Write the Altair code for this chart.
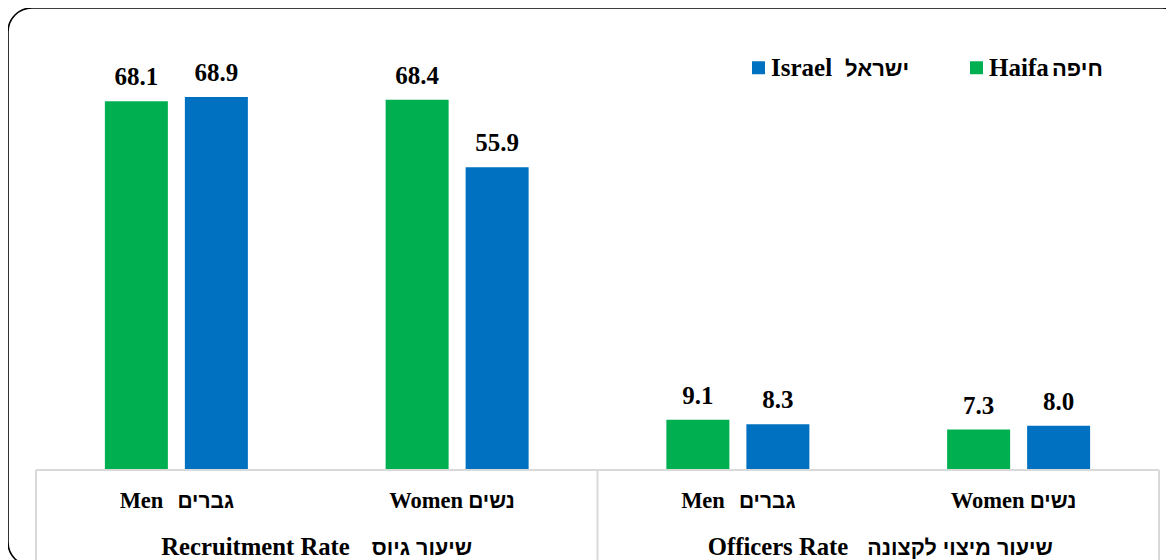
import altair as alt
import pandas as pd

# ---- data -------------------------------------------------------------
groups_en = ["Recruitment Rate", "Officers Rate"]
groups_he = ["שיעור גיוס", "שיעור מיצוי לקצונה"]
genders_en = ["Men", "Women"]
genders_he = ["גברים", "נשים"]
series_en = ["Haifa", "Israel"]
series_he = ["חיפה", "ישראל"]
haifa = [68.1, 68.4, 9.1, 7.3]
israel = [68.9, 55.9, 8.3, 8.0]

# ---- style / layout ---------------------------------------------------
GREEN = "#00B050"
BLUE = "#0070C0"
GRID = "#D9D9D9"
EN_FONT = "Liberation Serif"
HE_FONT = "Liberation Sans"
W, H = 1123, 432
gender_dx = [(-13, 1), (6, 11)]          # (english right edge, hebrew left edge) from centre
group_dx = [(33, 55), (-30, -11)]
legend_he_x = {"Israel": 809, "Haifa": 1016}

keys, cat_rows = [], []
for gi in range(len(groups_en)):
    for ji in range(len(genders_en)):
        k = f"{gi}-{ji}"
        keys.append(k)
        cat_rows.append({"key": k, "g": ji, "en": genders_en[ji], "he": genders_he[ji]})

rows = []
for i, k in enumerate(keys):
    rows.append({"key": k, "series": series_en[0], "value": haifa[i]})
    rows.append({"key": k, "series": series_en[1], "value": israel[i]})
bars_df = pd.DataFrame(rows)
cat_df = pd.DataFrame(cat_rows)
grp_df = pd.DataFrame({"pos": [1, 3], "g": [0, 1], "en": groups_en, "he": groups_he})
ser_df = pd.DataFrame({"en": series_en, "he": series_he})
vline_df = pd.DataFrame({"pos": [0, 2, 4]})
one = pd.DataFrame({"a": [0]})

xband = alt.X("key:N", axis=None,
              scale=alt.Scale(domain=keys, paddingInner=0, paddingOuter=0))
xoff = alt.XOffset("series:N",
                   scale=alt.Scale(domain=series_en, paddingInner=0.2125, paddingOuter=0.861))
yq = alt.Y("value:Q", axis=None, scale=alt.Scale(domain=[0, 80]))
xq = alt.X("pos:Q", axis=None, scale=alt.Scale(domain=[0, 4], nice=False, zero=False))

border = alt.Chart(one).mark_rect(
    cornerRadius=24, fill="transparent", stroke="black", strokeWidth=1.6
).encode(x=alt.value(-28), x2=alt.value(1150), y=alt.value(-29), y2=alt.value(529))

bars = alt.Chart(bars_df).mark_bar().encode(
    x=xband, xOffset=xoff, y=yq,
    color=alt.Color("series:N",
                    scale=alt.Scale(domain=[series_en[1], series_en[0]], range=[BLUE, GREEN]),
                    legend=alt.Legend(title=None, orient="none", legendX=710, legendY=18,
                                      direction="horizontal", symbolType="square",
                                      symbolSize=169, symbolStrokeWidth=0,
                                      labelFont=EN_FONT, labelFontSize=25,
                                      labelFontWeight="bold", labelColor="black",
                                      labelOffset=0, columnPadding=131, padding=0,
                                      labelLimit=400)),
)

values = alt.Chart(bars_df).mark_text(
    baseline="alphabetic", dy=-16, font=EN_FONT, fontSize=25, fontWeight="bold", color="black"
).encode(x=xband, xOffset=xoff, y=yq, text=alt.Text("value:Q", format=".1f"))

layers = [border, bars, values]

# bottom table lines
layers.append(alt.Chart(one).mark_rule(color=GRID, strokeWidth=2).encode(
    x=alt.value(0), x2=alt.value(W), y=alt.value(433)))
layers.append(alt.Chart(vline_df).mark_rule(color=GRID, strokeWidth=2).encode(
    x=xq, y=alt.value(433), y2=alt.value(560)))

# gender labels
for ji, (dxe, dxh) in enumerate(gender_dx):
    base = alt.Chart(cat_df).transform_filter(alt.datum.g == ji)
    layers.append(base.mark_text(align="right", baseline="alphabetic", dx=dxe, font=EN_FONT,
                                 fontSize=22.5, fontWeight="bold", color="black")
                  .encode(x=xband, y=alt.value(471), text="en:N"))
    layers.append(base.mark_text(align="left", baseline="alphabetic", dx=dxh, font=HE_FONT,
                                 fontSize=21, fontWeight="bold", color="black")
                  .encode(x=xband, y=alt.value(471), text="he:N"))

# group labels
for gi, (dxe, dxh) in enumerate(group_dx):
    base = alt.Chart(grp_df).transform_filter(alt.datum.g == gi)
    layers.append(base.mark_text(align="right", baseline="alphabetic", dx=dxe, font=EN_FONT,
                                 fontSize=24.7, fontWeight="bold", color="black")
                  .encode(x=xq, y=alt.value(518), text="en:N"))
    layers.append(base.mark_text(align="left", baseline="alphabetic", dx=dxh, font=HE_FONT,
                                 fontSize=21.5, fontWeight="bold", color="black")
                  .encode(x=xq, y=alt.value(518), text="he:N"))

# hebrew legend labels
for name, hx in legend_he_x.items():
    layers.append(alt.Chart(ser_df).transform_filter(alt.datum.en == name)
                  .mark_text(align="left", baseline="alphabetic", font=HE_FONT,
                             fontSize=22, fontWeight="bold", color="black")
                  .encode(x=alt.value(hx), y=alt.value(38.5), text="he:N"))

chart = alt.layer(*layers).resolve_scale(x="independent").properties(
    width=W, height=H,
    autosize=alt.AutoSizeParams(type="none"),
    padding={"left": 28, "top": 29, "right": 7, "bottom": 95},
    background="white",
).configure_view(strokeWidth=0)

chart.save("out.html", embed_options={"renderer": "svg", "actions": False})
